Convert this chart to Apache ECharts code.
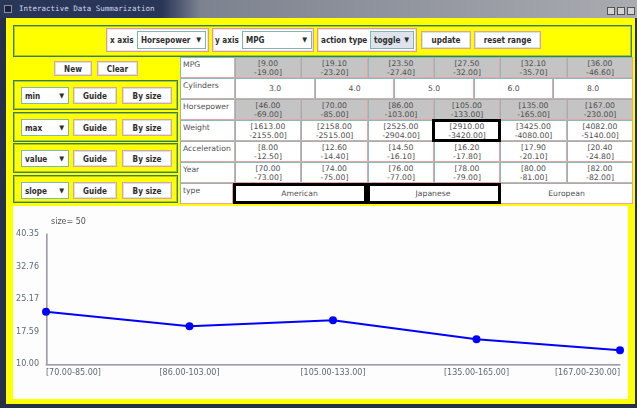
<!DOCTYPE html>
<html><head><meta charset="utf-8">
<script src="https://cdn.jsdelivr.net/npm/echarts@6/dist/echarts.min.js"></script>
<style>
html,body{margin:0;padding:0;width:637px;height:408px;overflow:hidden;background:#263046;font-family:"DejaVu Sans",sans-serif;}
.abs{position:absolute;box-sizing:border-box;}
#title{left:0;top:0;width:637px;height:18px;background:linear-gradient(to right,#2a3658 0,#2a3658 162px,#7c828f 200px,#a9abb0 100%);}
#ttext{left:19px;top:3px;font:7.5px "DejaVu Sans Mono",monospace;color:#d0d6ec;white-space:pre;line-height:12px;}
#frame{left:6px;top:18px;width:629px;height:386px;background:#ffff00;}
.panel{border:1px solid #3d7f3d;box-shadow:inset 0 0 0 1px #a6c43e;}
.grp{background:#fff;border:1px solid #dc9a9a;box-shadow:inset 0 0 0 1px #f3e0e0;}
.btn{background:#fff;border:1px solid #e3a0a0;box-shadow:inset 0 0 0 1px #cfe6e6;font:bold 8.1px "DejaVu Sans Condensed","DejaVu Sans",sans-serif;color:#2e2e2e;display:flex;align-items:center;justify-content:center;white-space:nowrap;}
.lbl{font:bold 8.1px "DejaVu Sans Condensed","DejaVu Sans",sans-serif;color:#2e2e2e;white-space:nowrap;line-height:12px;}
.combo{background:#fff;border:1px solid #7cb6b6;font:bold 8.1px "DejaVu Sans Condensed","DejaVu Sans",sans-serif;color:#2e2e2e;white-space:nowrap;display:flex;align-items:center;padding-left:3px;}
.combo .arr{position:absolute;right:4px;top:0;bottom:0;display:flex;align-items:center;font-size:7px;}
.cell{border-top:1px solid #86bcbc;border-left:1px solid #86bcbc;border-right:1px solid #e6a4a4;border-bottom:1px solid #e6a4a4;font:7.7px "DejaVu Sans",sans-serif;color:#4f4f4f;text-align:center;line-height:9px;white-space:pre;overflow:hidden;}
.gray{background:#c4c4c4;}
.white{background:#fff;}
.hl{border:3px solid #000;}
#chart{left:13px;top:206px;width:615px;height:193px;background:#fdfdfd;}
</style></head>
<body>
<div id="root"></div>
<script>
// ---------- data ----------
const titleText = 'Interactive Data Summarization';
const rowLabels = ['MPG','Cylinders','Horsepower','Weight','Acceleration','Year','type'];
const mpgRanges = ['[9.00\n-19.00]','[19.10\n-23.20]','[23.50\n-27.40]','[27.50\n-32.00]','[32.10\n-35.70]','[36.00\n-46.60]'];
const cylinderValues = ['3.0','4.0','5.0','6.0','8.0'];
const hpRanges = ['[46.00\n-69.00]','[70.00\n-85.00]','[86.00\n-103.00]','[105.00\n-133.00]','[135.00\n-165.00]','[167.00\n-230.00]'];
const weightRanges = ['[1613.00\n-2155.00]','[2158.00\n-2515.00]','[2525.00\n-2904.00]','[2910.00\n-3420.00]','[3425.00\n-4080.00]','[4082.00\n-5140.00]'];
const accelRanges = ['[8.00\n-12.50]','[12.60\n-14.40]','[14.50\n-16.10]','[16.20\n-17.80]','[17.90\n-20.10]','[20.40\n-24.80]'];
const yearRanges = ['[70.00\n-73.00]','[74.00\n-75.00]','[76.00\n-77.00]','[78.00\n-79.00]','[80.00\n-81.00]','[82.00\n-82.00]'];
const typeValues = ['American','Japanese','European'];
const summaryFns = ['min','max','value','slope'];

// chart data
const categories = ['[70.00-85.00]','[86.00-103.00]','[105.00-133.00]','[135.00-165.00]','[167.00-230.00]'];
const mpgMeans = [22.19, 18.83, 20.23, 15.79, 13.22];
const yTicks = [10.00, 17.59, 25.17, 32.76, 40.35];
const sizeLabel = 'size= 50';

// ---------- UI ----------
const root = document.getElementById('root');
function box(x,y,w,h,cls,html){
  const d=document.createElement('div');
  d.className='abs '+(cls||'');
  d.style.left=x+'px';d.style.top=y+'px';
  if(w!=null)d.style.width=w+'px';
  if(h!=null)d.style.height=h+'px';
  if(html!=null)d.innerHTML=html;
  root.appendChild(d);return d;
}
function esc(s){return s.replace(/&/g,'&amp;').replace(/</g,'&lt;');}
box(0,0,637,18,'','').id='title';
const tt=box(19,3,null,null,'',esc(titleText));tt.id='ttext';
// close icon
box(4,5,8,8,'','').style.cssText+='background:#1b2236;border:1px solid #8890a8;';
// window buttons
[607,617,627].forEach(x=>{box(x,7,8,8,'','').style.cssText+='background:#d4d4d4;border:1px solid #555;';});
const fr=box(6,18,629,386,'','');fr.id='frame';

// toolbar
box(13,25,619,32,'panel','');
function combo(x,y,w,h,text,bg){
  const c=box(x,y,w,h,'combo',esc(text)+'<span class="arr">&#9660;</span>');
  if(bg)c.style.background=bg;return c;
}
box(106,28,103,24,'grp','');
box(110,34,null,null,'lbl','x axis');
combo(137,31,69,18,'Horsepower');
box(212,28,102,24,'grp','');
box(215,34,null,null,'lbl','y axis');
combo(242,31,70,18,'MPG');
box(317,28,100,24,'grp','');
box(321,34,null,null,'lbl','action type');
combo(370,31,44,18,'toggle','#dfe4ec');
box(421,31,50,18,'btn','update');
box(474,31,67,18,'btn','reset range');

// left panel
box(54,61,38,15,'btn','New');
box(97,61,41,15,'btn','Clear');
const panelTops=[80,112,143,175];
summaryFns.forEach((f,i)=>{
  const t=panelTops[i];
  box(13,t,165,i===3?28:30,'panel','');
  combo(21,t+7,48,17,f);
  box(73,t+7,44,17,'btn','Guide');
  box(122,t+7,50,17,'btn','By size');
});

// table
const tx=180, tw=453, rowTop=[57,78,99,120,141,162,183], rh=21, lw=55;
box(tx,57,tw,147,'white','');
function row(r,label,values,cls,startX,endX){
  const y=rowTop[r];
  const lc=box(tx,y,(startX||tx+lw)-tx,rh,'cell white','');
  lc.style.cssText+='text-align:left;padding:2px 0 0 2px;';
  lc.textContent=label;
  const x0=startX||tx+lw, x1=endX||tx+tw, n=values.length, cw=(x1-x0)/n;
  values.forEach((v,i)=>{
    const lines=v.split('\n').length;
    const c=box(Math.round(x0+i*cw),y,Math.round(x0+(i+1)*cw)-Math.round(x0+i*cw),rh,'cell '+cls,'');
    c.textContent=v;
    c.style.paddingTop=(lines===2?1:5)+'px';
  });
}
row(0,rowLabels[0],mpgRanges,'gray');
row(1,rowLabels[1],cylinderValues,'white');
row(2,rowLabels[2],hpRanges,'gray');
row(3,rowLabels[3],weightRanges,'white');
row(4,rowLabels[4],accelRanges,'white');
row(5,rowLabels[5],yearRanges,'white');
row(6,rowLabels[6],typeValues,'white',233);
// highlighted selections
box(432,119,69,23,'hl','');
box(233,183,134,21,'hl','');
box(367,183,134,21,'hl','');

// chart
const cd=box(13,206,615,193,'','');cd.id='chart';
</script>
<script>
const chart = echarts.init(document.getElementById('chart'), null, {renderer:'canvas'});
const axisFont = {fontSize:8, color:'#5b6a72', fontFamily:'DejaVu Sans'};
chart.setOption({
  animation:false,
  backgroundColor:'#fdfdfd',
  title:{text:sizeLabel,left:33,top:7,textStyle:{fontSize:8,fontWeight:'normal',color:'#555',fontFamily:'DejaVu Sans'}},
  grid:{left:33,right:8,top:28,bottom:35},
  xAxis:{
    type:'category',data:categories,boundaryGap:false,
    axisLine:{lineStyle:{color:'#72b0b4',width:1,shadowColor:'#f0a8b8',shadowOffsetY:1}},
    axisTick:{show:false},
    axisLabel:Object.assign({margin:5,alignMinLabel:'left',alignMaxLabel:'right'},axisFont)
  },
  yAxis:{
    type:'value',min:yTicks[0],max:yTicks[yTicks.length-1],
    axisLine:{show:true,lineStyle:{color:'#72b0b4',width:1,shadowColor:'#f0a8b8',shadowOffsetX:1}},
    axisTick:{show:false},splitLine:{show:false},
    axisLabel:Object.assign({margin:7,customValues:yTicks,formatter:v=>Number(v).toFixed(2)},axisFont)
  },
  series:[{
    type:'line',data:mpgMeans,symbol:'circle',symbolSize:8,
    lineStyle:{color:'#0000ff',width:2},itemStyle:{color:'#0000ff'}
  }]
});
</script>
</body></html>
